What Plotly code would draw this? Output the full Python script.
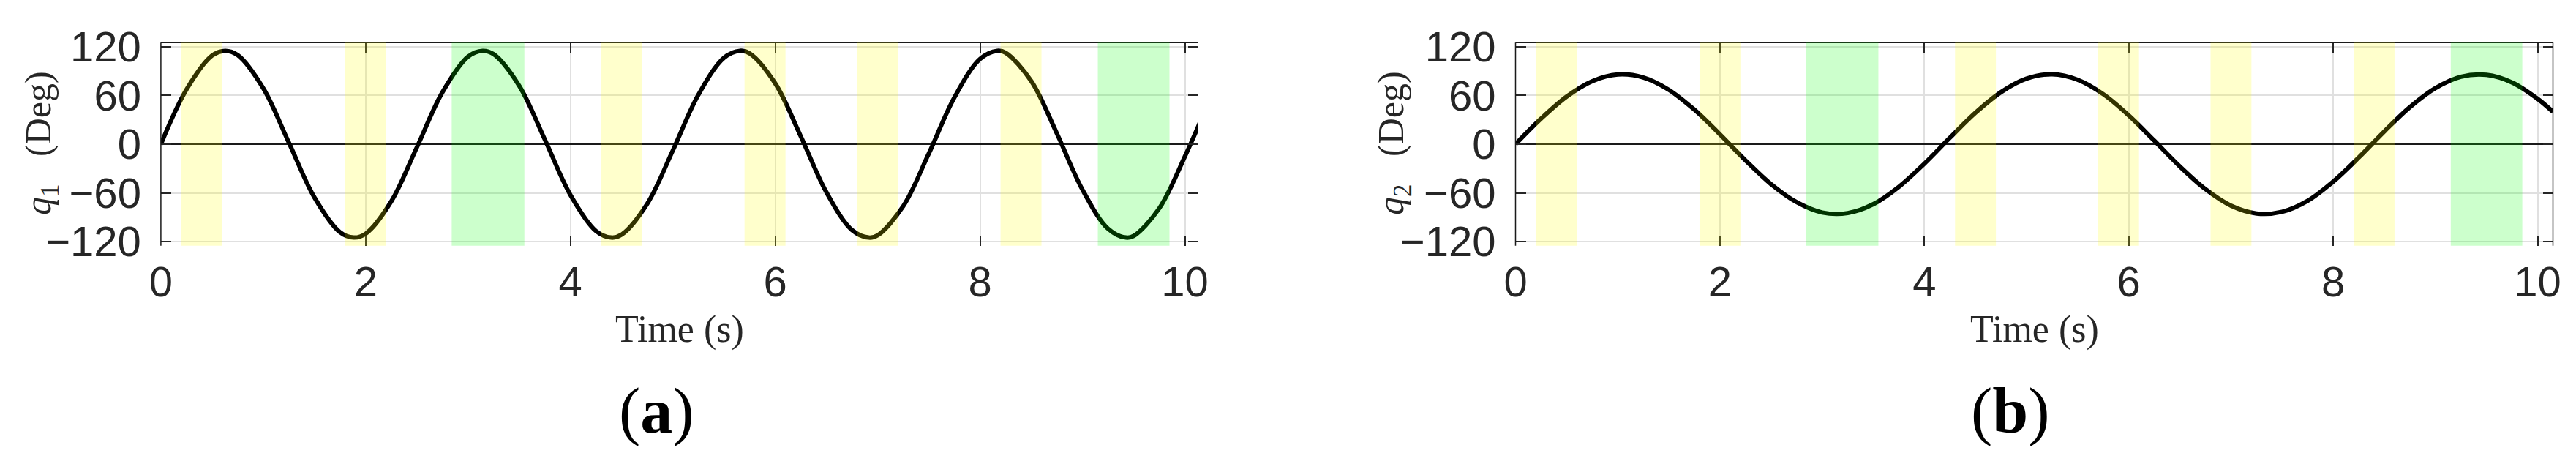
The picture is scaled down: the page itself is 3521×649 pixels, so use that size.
import plotly.graph_objects as go
from plotly.subplots import make_subplots

# q1 joint angle (deg) vs time (s)
t1 = [0, 0.25, 0.5, 0.628, 0.75, 1.0, 1.25, 1.5, 1.75, 1.885,
      2.0, 2.25, 2.5, 2.75, 3.0, 3.142, 3.25, 3.5, 3.75, 4.0,
      4.25, 4.398, 4.5, 4.75, 5.0, 5.25, 5.5, 5.655, 5.75, 6.0,
      6.25, 6.5, 6.75, 6.912, 7.0, 7.25, 7.5, 7.75, 8.0, 8.168,
      8.25, 8.5, 8.75, 9.0, 9.25, 9.425, 9.5, 9.75, 10.0, 10.15]
q1 = [0, 67.3, 109.1, 115.0, 109.7, 68.8, 1.9, -65.7, -108.5, -115.0,
      -110.3, -70.4, -3.8, 64.1, 107.9, 115.0, 110.8, 71.8, 5.7, -62.6,
      -107.0, -115.0, -111.3, -73.3, -7.6, 61.0, 106.5, 115.0, 111.8, 74.8,
      9.5, -59.3, -105.8, -115.0, -112.2, -76.3, -11.4, 57.7, 105.0, 115.0,
      112.6, 77.7, 13.3, -56.0, -104.2, -115.0, -113.0, -79.0, -15.2, 27.6]

# q2 joint angle (deg) vs time (s)
t2 = [0, 0.25, 0.5, 0.75, 1.0, 1.25, 1.5, 1.75, 2.0, 2.25,
      2.5, 2.75, 3.0, 3.25, 3.5, 3.75, 4.0, 4.25, 4.5, 4.75,
      5.0, 5.25, 5.5, 5.75, 6.0, 6.25, 6.5, 6.75, 7.0, 7.25,
      7.5, 7.75, 8.0, 8.25, 8.5, 8.75, 9.0, 9.25, 9.5, 9.75,
      10.0, 10.15]
q2 = [0, 31.5, 58.6, 77.6, 85.8, 82.1, 66.9, 42.5, 12.1, -19.9,
      -49.2, -71.4, -84.1, -84.8, -73.9, -52.6, -24.0, 7.9, 38.7, 64.1,
      80.7, 86.0, 79.3, 61.6, 35.4, 4.3, -27.5, -55.4, -75.7, -85.3,
      -83.2, -69.7, -46.1, -16.4, 15.7, 45.6, 69.1, 83.1, 85.4, 76.0,
      55.9, 39.9]

# highlighted time windows (s)
yellow_start = [0.2, 1.8, 4.3, 5.7, 6.8, 8.2]
yellow_end = [0.6, 2.2, 4.7, 6.1, 7.2, 8.6]
green_start = [2.84, 9.15]
green_end = [3.55, 9.85]

x_ticks = [0, 2, 4, 6, 8, 10]
y_ticks = [-120, -60, 0, 60, 120]
y_labels = ['<i>q</i><sub>1</sub>&nbsp;&nbsp;&nbsp;(Deg)', '<i>q</i><sub>2</sub>&nbsp;&nbsp;&nbsp;(Deg)']
panel_labels = ['(<b>a</b>)', '(<b>b</b>)']

# the page body keeps its default 8px margin, so the figure is 8px smaller
OFF = 8
FW, FH = 3521 - OFF, 649 - OFF


def fx(px):
    return (px - OFF) / FW


def fy(py):
    return (FH - (py - OFF)) / FH


tick_font = dict(family='Liberation Sans, Arial', size=58, color='#262626')
serif = 'Liberation Serif, Times New Roman, serif'

fig = make_subplots(rows=1, cols=2)

fig.add_trace(go.Scatter(x=t1, y=q1, mode='lines', line=dict(color='black', width=6, shape='spline')), row=1, col=1)
fig.add_trace(go.Scatter(x=t2, y=q2, mode='lines', line=dict(color='black', width=6, shape='spline')), row=1, col=2)

x_domains = [[fx(219.9), fx(1637.7)], [fx(2071.5), fx(3489.5)]]
x_ranges = [[0, 10.13], [0, 10.15]]
y_domain = [fy(335.7), fy(58.3)]

shapes = []
annotations = []
for i in range(2):
    xa = 'x' if i == 0 else 'x2'
    ya = 'y' if i == 0 else 'y2'
    fig.layout['xaxis' if i == 0 else 'xaxis2'].update(
        domain=x_domains[i], range=x_ranges[i], tickvals=x_ticks, automargin=False,
        ticks='inside', ticklen=14, tickwidth=1.5, tickcolor='#262626',
        mirror='ticks', showline=False, showgrid=True, gridcolor='#e0e0e0', gridwidth=1.5,
        zeroline=False, tickfont=tick_font, ticklabelstandoff=10)
    fig.layout['yaxis' if i == 0 else 'yaxis2'].update(
        domain=y_domain, range=[-125, 125], tickvals=y_ticks, automargin=False,
        ticks='inside', ticklen=14, tickwidth=1.5, tickcolor='#262626',
        mirror='ticks', showline=False, showgrid=True, gridcolor='#e0e0e0', gridwidth=1.5,
        zeroline=True, zerolinecolor='#1a1a1a', zerolinewidth=1.5,
        tickfont=tick_font, ticklabelstandoff=26)

    # frame: top and left for (a); top, left and right for (b)
    frame = [(0, 1, 1, 1), (0, 0, 0, 1)]
    if i == 1:
        frame.append((1, 0, 1, 1))
    for x0, y0, x1, y1 in frame:
        shapes.append(dict(type='line', xref=xa + ' domain', yref=ya + ' domain',
                           x0=x0, y0=y0, x1=x1, y1=y1, line=dict(color='#1a1a1a', width=1.5), layer='above'))

    for s, e in zip(yellow_start, yellow_end):
        shapes.append(dict(type='rect', xref=xa, yref=ya + ' domain', x0=s, x1=e, y0=0, y1=1,
                           fillcolor='rgba(255,255,0,0.2)', line=dict(width=0), layer='above'))
    for s, e in zip(green_start, green_end):
        shapes.append(dict(type='rect', xref=xa, yref=ya + ' domain', x0=s, x1=e, y0=0, y1=1,
                           fillcolor='rgba(0,255,0,0.2)', line=dict(width=0), layer='above'))

    # axis titles and panel label
    cx = (x_domains[i][0] + x_domains[i][1]) / 2
    annotations.append(dict(text='Time (s)', xref='paper', yref='paper', x=cx, y=fy(450),
                            xanchor='center', yanchor='middle', showarrow=False,
                            font=dict(family=serif, size=52, color='#262626')))
    annotations.append(dict(text=y_labels[i], xref='paper', yref='paper',
                            x=fx(56 if i == 0 else 1905), y=fy(196), textangle=-90,
                            xanchor='center', yanchor='middle', showarrow=False,
                            font=dict(family=serif, size=50, color='#262626')))
    annotations.append(dict(text=panel_labels[i], xref='paper', yref='paper',
                            x=fx(897 if i == 0 else 2748), y=fy(561),
                            xanchor='center', yanchor='middle', showarrow=False,
                            font=dict(family=serif, size=88, color='black')))

fig.update_layout(
    width=FW, height=FH,
    margin=dict(l=0, r=0, t=0, b=0),
    plot_bgcolor='white', paper_bgcolor='white',
    showlegend=False,
    shapes=shapes,
    annotations=annotations,
)

fig.write_html("out.html")
